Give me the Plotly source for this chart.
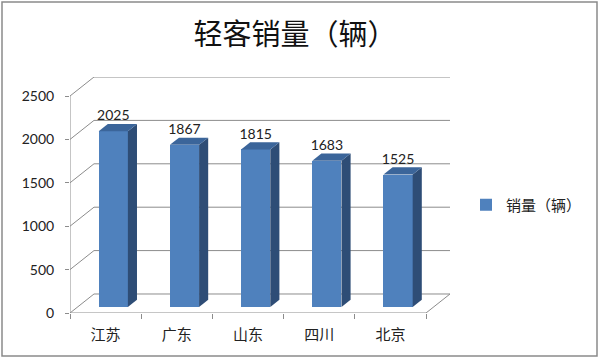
import plotly.graph_objects as go

# ---- data ----
categories = ["江苏", "广东", "山东", "四川", "北京"]
values = [2025, 1867, 1815, 1683, 1525]
series_name = "销量（辆）"
title_text = "轻客销量（辆）"
y_ticks = [0, 500, 1000, 1500, 2000, 2500]

# ---- 3D geometry (data units) ----
N = len(categories)
YMAX = y_ticks[-1]
DX = 0.337          # full depth, x units
DY = 219            # full depth, y units
BAR_W = 0.41
D0, D1 = 0.32, 0.70  # bar depth fraction front/back

GRID = "#8c8c8c"
FRONT = "#4F81BD"
SIDE = "#2E4D76"
TOP = "#3B659A"

fig = go.Figure()


def line_path(pts):
    return "M" + " L".join(f"{x},{y}" for x, y in pts)


# walls / gridlines (behind everything)
for v in y_ticks:
    fig.add_shape(type="path", xref="x", yref="y", layer="below",
                  path=line_path([(0, v), (DX, v + DY), (N + DX, v + DY)]),
                  line=dict(color=GRID, width=1))
fig.add_shape(type="path", xref="x", yref="y", layer="below",
              path=line_path([(0, 0), (N, 0), (N + DX, DY)]), line=dict(color=GRID, width=1))
fig.add_shape(type="path", xref="x", yref="y", layer="below",
              path=line_path([(0, 0), (0, YMAX)]), line=dict(color=GRID, width=1))

# bars (front faces)
xc = [i + 0.5 + D0 * DX for i in range(N)]
fig.add_trace(go.Bar(x=xc, y=values, base=[D0 * DY] * N, width=BAR_W,
                     marker=dict(color=FRONT, line=dict(width=0)), name=series_name,
                     showlegend=True, hoverinfo="skip"))
ddx = (D1 - D0) * DX
ddy = (D1 - D0) * DY
for i, v in enumerate(values):
    xl = xc[i] - BAR_W / 2
    xr = xc[i] + BAR_W / 2
    b = D0 * DY
    t = v + D0 * DY
    # side
    fig.add_trace(go.Scatter(x=[xr, xr, xr + ddx, xr + ddx, xr], y=[b, t, t + ddy, b + ddy, b],
                             fill="toself", fillcolor=SIDE, mode="lines", line=dict(width=0, color=SIDE),
                             hoverinfo="skip", showlegend=False))
    # top
    fig.add_trace(go.Scatter(x=[xl, xr, xr + ddx, xl + ddx, xl], y=[t, t, t + ddy, t + ddy, t],
                             fill="toself", fillcolor=TOP, mode="lines", line=dict(width=0, color=TOP),
                             hoverinfo="skip", showlegend=False))

# data labels
fig.add_trace(go.Scatter(x=xc, y=[v + D1 * DY for v in values], mode="text",
                         text=[str(v) for v in values], textposition="top center",
                         textfont=dict(family="Lato, Open Sans, sans-serif", size=14, color="#222"),
                         cliponaxis=False, hoverinfo="skip", showlegend=False))

fig.update_layout(
    width=600, height=359,
    margin=dict(l=70, r=150, t=77, b=46),
    paper_bgcolor="white", plot_bgcolor="rgba(0,0,0,0)",
    title=dict(text=title_text, x=295 / 600, xanchor="center", y=1 - 35 / 359, yanchor="middle",
               xref="container", yref="container",
               font=dict(family="Noto Sans CJK SC", size=29, color="#111")),
    showlegend=True,
    legend=dict(xref="container", yref="container", x=466 / 600, y=1 - 205 / 359,
                xanchor="left", yanchor="middle",
                font=dict(family="Noto Sans CJK SC", size=15, color="#222"),
                bgcolor="rgba(0,0,0,0)"),
    bargap=0,
)
fig.update_xaxes(range=[0, N + DX], showgrid=False, zeroline=False, showline=False,
                 tickmode="array", tickvals=[i + 0.5 for i in range(N)], ticktext=categories,
                 ticks="", ticklabelstandoff=11,
                 tickfont=dict(family="Noto Sans CJK SC", size=15, color="#222"),
                 minor=dict(tickmode="array", tickvals=list(range(N + 1)), ticks="outside",
                            ticklen=5, tickcolor=GRID, tickwidth=1, showgrid=False),
                 fixedrange=True)
fig.update_yaxes(range=[0, YMAX + DY], showgrid=False, zeroline=False, showline=False,
                 tickmode="array", tickvals=y_ticks, ticks="outside", ticklen=4,
                 tickcolor=GRID, ticklabelstandoff=8,
                 tickfont=dict(family="Lato, Open Sans, sans-serif", size=14, color="#222"),
                 fixedrange=True)

# outer chart border
fig.add_shape(type="rect", xref="paper", yref="paper",
              x0=-68 / 380, x1=(597 - 70) / 380, y0=-(356 - 313) / 236, y1=(313 - 2) / 236,
              line=dict(color="#8a8a8a", width=1.5), fillcolor="rgba(0,0,0,0)", layer="below")

fig.write_html("out.html", config={"displayModeBar": False},
               post_script="document.body.style.margin='0';document.body.style.overflow='hidden';")
